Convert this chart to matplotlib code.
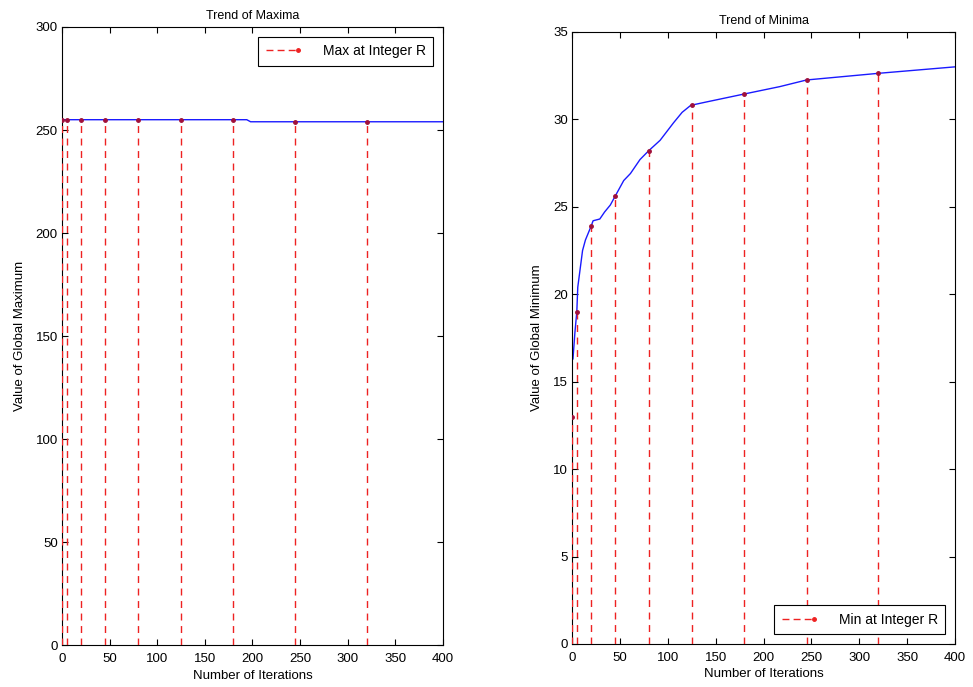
import matplotlib
matplotlib.use("Agg")
import matplotlib.pyplot as plt
from matplotlib.lines import Line2D
from matplotlib.legend_handler import HandlerBase

plt.rcParams['font.family'] = ['Liberation Sans', 'DejaVu Sans']

# ---- data ----
r_iters = [0, 5, 20, 45, 80, 125, 180, 245, 320]
max_at_r = [255, 255, 255, 255, 255, 255, 255, 254, 254]
min_at_r = [13, 19.0, 23.9, 25.6, 28.2, 30.8, 31.45, 32.25, 32.63]

max_curve_x = [0, 194, 198, 400]
max_curve_y = [255, 255, 254, 254]

min_curve_x = [1, 3, 5, 6, 11, 14, 20, 22, 29, 34, 40, 45, 54, 61, 71, 80,
               92, 106, 115, 124, 141, 180, 217, 245, 320, 400]
min_curve_y = [16.3, 17.8, 19.0, 20.4, 22.5, 23.1, 23.9, 24.2, 24.3, 24.7,
               25.1, 25.6, 26.5, 26.9, 27.7, 28.2, 28.8, 29.8, 30.4, 30.8,
               31.0, 31.45, 31.87, 32.25, 32.63, 33.0]

xticks = [0, 50, 100, 150, 200, 250, 300, 350, 400]
left_yticks = [0, 50, 100, 150, 200, 250, 300]
right_yticks = [0, 5, 10, 15, 20, 25, 30, 35]

blue = '#1a1aff'
red = '#ee2222'
fs = 9.5


class StemHandler(HandlerBase):
    def create_artists(self, legend, orig_handle, xdescent, ydescent,
                       width, height, fontsize, trans):
        y = height / 2 - ydescent
        x0 = -xdescent
        line = Line2D([x0, x0 + width], [y, y], color=red,
                      ls=(0, (5, 3)), lw=1.0)
        mk = Line2D([x0 + width * 0.92], [y], color=red, marker='.',
                    ms=5, ls='none')
        line.set_transform(trans)
        mk.set_transform(trans)
        return [line, mk]


fig = plt.figure(figsize=(9.73, 6.87), dpi=100)
ax1 = fig.add_axes([0.0637, 0.0611, 0.3916, 0.8996])
ax2 = fig.add_axes([0.5879, 0.0626, 0.3936, 0.891])


def draw(ax, cx, cy, rv, title, ylabel, ylim, yticks, leg_label, leg_loc):
    ax.plot(cx, cy, color=blue, lw=1.0, zorder=2)
    for x, v in zip(r_iters, rv):
        ax.plot([x, x], [0, v], color=red, ls=(0, (5, 4)), lw=1.0, zorder=3)
        ax.plot([x], [v], marker='.', color='#a0103a', ms=5, ls='none', zorder=4)
    ax.set_xlim(0, 400)
    ax.set_ylim(*ylim)
    ax.set_xticks(xticks)
    ax.set_yticks(yticks)
    ax.tick_params(direction='in', top=True, right=True, labelsize=fs,
                   length=4, width=0.8, pad=3)
    ax.tick_params(axis='x', pad=6)
    for s in ax.spines.values():
        s.set_linewidth(0.8)
    ax.set_title(title, fontsize=fs - 0.5, pad=6)
    ax.set_xlabel('Number of Iterations', fontsize=fs, labelpad=3)
    ax.set_ylabel(ylabel, fontsize=fs, labelpad=7)
    h = Line2D([0], [0], color=red)
    leg = ax.legend([h], [leg_label], loc=leg_loc, fontsize=fs + 0.5,
                    fancybox=False, edgecolor='black', framealpha=1,
                    handlelength=2.5, borderpad=0.55, handletextpad=1.6,
                    borderaxespad=0.7, handler_map={Line2D: StemHandler()})
    leg.get_frame().set_linewidth(0.8)


draw(ax1, max_curve_x, max_curve_y, max_at_r, 'Trend of Maxima',
     'Value of Global Maximum', (0, 300), left_yticks, 'Max at Integer R',
     'upper right')
draw(ax2, min_curve_x, min_curve_y, min_at_r, 'Trend of Minima',
     'Value of Global Minimum', (0, 35), right_yticks, 'Min at Integer R',
     'lower right')

fig.savefig('out.png', dpi=100)
